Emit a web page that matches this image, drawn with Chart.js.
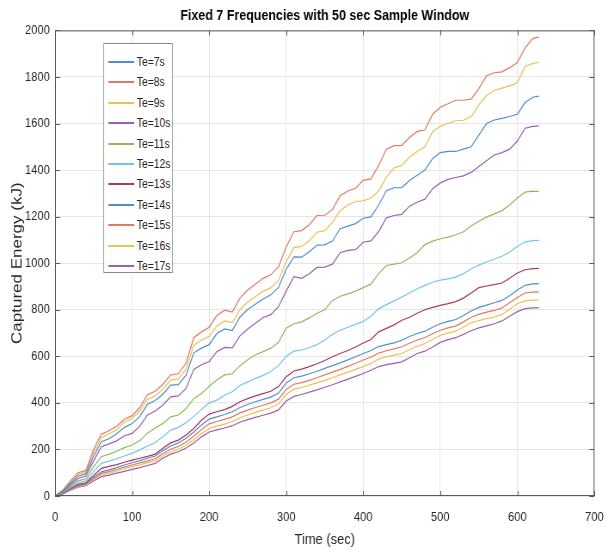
<!DOCTYPE html>
<html>
<head>
<meta charset="utf-8">
<script src="https://cdn.jsdelivr.net/npm/chart.js@4.4.1/dist/chart.umd.min.js"></script>
<style>
  body { margin: 0; background: #fff; overflow: hidden; }
  /* the source figure is squeezed sideways, so draw wide and squeeze the same way */
  #wrap { position: relative; width: 716px; height: 550px; transform: scaleX(0.86); transform-origin: 0 0; }
  #legend {
    position: absolute; left: 120px; top: 43px; width: 81px; height: 230px;
    border: 1px solid #8a8a8a; background: #fff; box-sizing: border-box;
    font-family: 'Liberation Sans', Arial, sans-serif;
    font-size: 12px; color: #262626;
  }
  .item { position: absolute; left: 0; height: 14px; line-height: 14px; white-space: nowrap; }
  .item span.swatch { position: absolute; left: 5px; top: 6px; width: 30px; height: 0; border-top: 2px solid; }
  .item span.txt { position: absolute; left: 38px; top: 0; }
</style>
</head>
<body>
<div id="wrap">
  <canvas id="chart" width="716" height="550"></canvas>
  <div id="legend"></div>
</div>
<script>
// time axis (sec)
const times = [0,10,20,30,40,50,60,70,80,90, 100,110,120,130,140,150,160,170,180,190,
  200,210,220,230,240,250,260,270,280,290, 300,310,320,330,340,350,360,370,380,390,
  400,410,420,430,440,450,460,470,480,490, 500,510,520,530,540,550,560,570,580,590,
  600,610,620,628];

// captured energy (kJ), one array per Te
const te7 = [0,20,55,85,96,170,233,246,267,295, 311,342,394,410,437,476,478,519,615,635,
  650,698,718,711,769,801,824,846,864,896, 974,1027,1026,1049,1078,1079,1095,1148,1159,1170,
  1193,1199,1250,1311,1324,1325,1355,1378,1400,1450, 1475,1480,1480,1490,1500,1550,1600,1615,1622,1630,
  1640,1690,1713,1718];
const te8 = [0,25,65,100,110,200,265,280,300,330, 345,380,435,450,480,520,525,570,680,705,
  725,775,798,790,850,885,910,935,950,985, 1070,1135,1140,1165,1205,1206,1230,1290,1310,1322,
  1356,1362,1420,1490,1505,1506,1540,1566,1572,1640, 1670,1685,1700,1700,1705,1750,1805,1818,1822,1840,
  1862,1925,1965,1972];
const te9 = [0,22,60,92,104,185,250,266,285,317, 333,365,415,430,459,498,503,545,648,670,
  686,730,752,745,800,833,856,880,894,926, 1007,1067,1072,1096,1133,1140,1175,1225,1250,1265,
  1268,1280,1310,1370,1410,1420,1455,1480,1500,1565, 1588,1600,1612,1614,1630,1680,1720,1742,1752,1762,
  1775,1845,1858,1862];
const te10 = [0,18,48,75,86,150,212,224,237,259, 269,300,348,365,391,426,430,462,544,564,
  578,620,638,636,688,717,742,767,779,813, 880,942,935,955,982,983,996,1045,1055,1058,
  1090,1096,1136,1195,1205,1210,1245,1262,1275,1320, 1345,1360,1368,1375,1390,1415,1440,1465,1475,1490,
  1525,1580,1588,1590];
const te11 = [0,16,42,65,74,125,169,180,192,208, 219,238,270,292,312,340,348,376,418,440,
  471,498,520,525,560,585,607,620,635,660, 721,740,748,765,785,800,840,858,868,880,
  895,910,955,990,996,1002,1022,1045,1080,1095, 1105,1112,1122,1135,1160,1180,1198,1212,1226,1250,
  1280,1305,1310,1308];
const te12 = [0,14,38,57,65,105,140,150,160,172, 183,198,215,230,255,283,295,315,342,372,
  400,412,433,448,475,490,505,518,535,560, 600,622,627,638,650,670,695,712,725,737,
  750,772,805,822,838,855,872,890,905,918, 927,933,940,955,975,992,1005,1018,1030,1048,
  1072,1092,1097,1098];
const te13 = [0,12,33,50,57,88,119,127,135,145, 154,162,170,180,205,228,240,262,290,325,
  352,362,371,385,405,418,430,440,450,470, 512,537,545,556,568,582,598,612,625,640,
  657,672,705,720,735,755,768,785,800,810, 819,826,835,850,872,895,902,908,915,935,
  958,972,977,978];
const te14 = [0,11,30,46,53,80,104,112,122,133, 143,152,162,172,195,215,228,248,275,305,
  330,340,350,362,380,393,405,415,425,442, 485,508,515,525,536,548,560,572,585,598,
  612,625,642,650,658,669,685,698,708,725, 740,750,758,775,795,810,820,830,840,860,
  885,905,911,912];
const te15 = [0,10,28,43,50,75,97,105,114,124, 133,142,151,160,182,201,213,232,257,286,
  310,320,329,340,357,369,380,390,400,416, 458,480,487,497,508,520,532,544,557,570,
  584,597,614,624,632,641,656,670,681,697, 712,722,730,748,768,780,790,797,808,830,
  853,872,876,877];
const te16 = [0,10,27,41,47,70,90,98,107,117, 126,134,143,151,172,190,201,218,242,268,
  290,300,309,320,336,348,359,369,379,395, 437,459,466,476,486,497,508,520,532,544,
  556,570,588,598,605,612,628,643,655,672, 690,700,708,725,744,754,762,769,780,802,
  826,838,841,842];
const te17 = [0,9,25,38,44,65,83,90,98,106, 114,122,131,140,162,180,190,206,228,254,
  275,284,292,302,317,328,338,347,356,370, 408,428,436,446,456,467,478,490,502,514,
  526,540,556,564,570,576,594,612,622,640, 660,672,680,694,710,722,731,740,752,772,
  792,805,808,809];

const seriesNames = ['Te=7s','Te=8s','Te=9s','Te=10s','Te=11s','Te=12s','Te=13s','Te=14s','Te=15s','Te=16s','Te=17s'];
const seriesValues = [te7, te8, te9, te10, te11, te12, te13, te14, te15, te16, te17];
const xTicks = [0, 100, 200, 300, 400, 500, 600, 700];
const yTicks = [0, 200, 400, 600, 800, 1000, 1200, 1400, 1600, 1800, 2000];

// matlab default line colours, a bit washed like the picture
const palette = ['#4d8fcc', '#e07a5f', '#eebf55', '#9d5fae', '#8dbb5a', '#72c5ec', '#a8385f'];

const font = "'Liberation Sans', Arial, sans-serif";
const txtColor = '#262626';

const datasets = seriesNames.map(function (name, i) {
  return {
    label: name,
    data: times.map(function (t, k) { return { x: t, y: seriesValues[i][k] }; }),
    borderColor: palette[i % palette.length],
    backgroundColor: palette[i % palette.length],
    borderWidth: 1.2,
    pointRadius: 0,
    tension: 0,
    fill: false
  };
});

// box round the axes with inward ticks, like matlab
const boxPlugin = {
  id: 'box',
  afterDraw: function (chart) {
    const ctx = chart.ctx;
    const a = chart.chartArea;
    const xs = chart.scales.x;
    const ys = chart.scales.y;
    ctx.save();
    ctx.strokeStyle = '#5a5a5a';
    ctx.lineWidth = 1;
    ctx.strokeRect(a.left + 0.5, a.top + 0.5, a.right - a.left - 1, a.bottom - a.top - 1);
    ctx.beginPath();
    xTicks.forEach(function (v) {
      const px = Math.round(xs.getPixelForValue(v)) + 0.5;
      ctx.moveTo(px, a.bottom); ctx.lineTo(px, a.bottom - 5);
      ctx.moveTo(px, a.top); ctx.lineTo(px, a.top + 5);
    });
    yTicks.forEach(function (v) {
      const py = Math.round(ys.getPixelForValue(v)) + 0.5;
      ctx.moveTo(a.left, py); ctx.lineTo(a.left + 6, py);
      ctx.moveTo(a.right, py); ctx.lineTo(a.right - 6, py);
    });
    ctx.stroke();
    ctx.restore();
  }
};

const ctx = document.getElementById('chart').getContext('2d');
const myChart = new Chart(ctx, {
  type: 'line',
  data: { datasets: datasets },
  options: {
    responsive: false,
    animation: false,
    layout: { padding: { left: 0, right: 15, top: 0, bottom: 0 } },
    scales: {
      x: {
        type: 'linear',
        min: 0,
        max: 700,
        afterBuildTicks: function (scale) { scale.ticks = xTicks.map(function (v) { return { value: v }; }); },
        afterFit: function (scale) { scale.height = 54; },
        ticks: { font: { family: font, size: 13 }, color: txtColor, padding: 14, maxRotation: 0,
          callback: function (v) { return String(v); } },
        grid: { color: '#e6e6e6', drawTicks: false },
        border: { display: false },
        title: { display: true, text: 'Time (sec)', font: { family: font, size: 15 }, color: txtColor, padding: { top: 0, bottom: 1 } }
      },
      y: {
        min: 0,
        max: 2000,
        afterBuildTicks: function (scale) { scale.ticks = yTicks.map(function (v) { return { value: v }; }); },
        afterFit: function (scale) { scale.width = 64; },
        ticks: { font: { family: font, size: 13 }, color: txtColor, padding: 6,
          callback: function (v) { return String(v); } },
        grid: { color: '#e6e6e6', drawTicks: false },
        border: { display: false },
        title: { display: true, text: 'Captured Energy (kJ)', font: { family: font, size: 17 }, color: txtColor, padding: { top: 10, bottom: 0 } }
      }
    },
    plugins: {
      legend: { display: false },
      tooltip: { enabled: false },
      title: {
        display: true,
        fullSize: false,
        text: 'Fixed 7 Frequencies with 50 sec Sample Window',
        font: { family: font, size: 14.5, weight: 'bold' },
        color: '#000',
        padding: { top: 7, bottom: 6 }
      }
    }
  },
  plugins: [boxPlugin]
});

// legend box drawn as html inside the axes, top left
const legendBox = document.getElementById('legend');
myChart.data.datasets.forEach(function (ds, i) {
  const item = document.createElement('div');
  item.className = 'item';
  item.style.top = (11 + i * 20.4) + 'px';
  const sw = document.createElement('span');
  sw.className = 'swatch';
  sw.style.borderTopColor = ds.borderColor;
  const tx = document.createElement('span');
  tx.className = 'txt';
  tx.textContent = ds.label;
  item.appendChild(sw);
  item.appendChild(tx);
  legendBox.appendChild(item);
});
</script>
</body>
</html>
